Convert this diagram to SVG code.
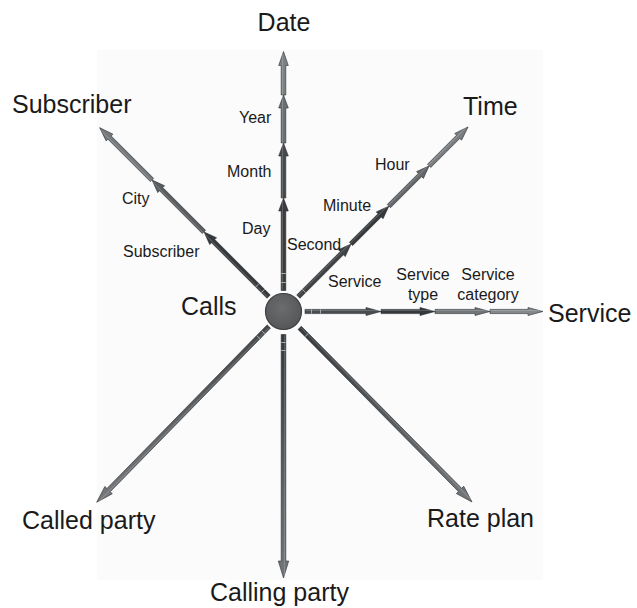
<svg xmlns="http://www.w3.org/2000/svg" width="637" height="608" viewBox="0 0 637 608">
  <defs>
    <style>
      .big { font-family: "Liberation Sans", Arial, sans-serif; font-size: 25px; fill: #1a1a1a; }
      .small { font-family: "Liberation Sans", Arial, sans-serif; font-size: 16px; fill: #1a1a1a; }
      .seg { stroke: #2b2d30; stroke-width: 0.6; stroke-linejoin: miter; }
      .notch { stroke: #b0b3b6; stroke-width: 0.9; }
      .hl { stroke: #ffffff; stroke-opacity: 0.18; stroke-width: 1; fill: none; }
    </style>
    <radialGradient id="gCircle" cx="0.45" cy="0.4" r="0.6">
      <stop offset="0" stop-color="#6a6c6e"/>
      <stop offset="1" stop-color="#555759"/>
    </radialGradient>
    <linearGradient id="gLong" gradientUnits="userSpaceOnUse" x1="20" y1="0" x2="268" y2="0">
      <stop offset="0" stop-color="#35383b"/>
      <stop offset="1" stop-color="#74777a"/>
    </linearGradient>
    <linearGradient id="gLong2" gradientUnits="userSpaceOnUse" x1="20" y1="0" x2="268" y2="0">
      <stop offset="0" stop-color="#444749"/>
      <stop offset="1" stop-color="#77797c"/>
    </linearGradient>
  </defs>

  <rect x="0" y="0" width="637" height="608" fill="#ffffff"/>
  <rect x="97" y="50" width="446" height="530" fill="#fbfbfb"/>

  <g id="connectors">
    <!-- Date (up) -->
    <g id="arrow-date" transform="translate(283.5,311.5) rotate(-90)">
      <path class="seg" fill="#3a3c3f" d="M21,-2.3 L100.5,-2.3 L100.5,-4.8 L113.5,0 L100.5,4.8 L100.5,2.3 L21,2.3 Z"/>
      <path class="seg" fill="#46494c" d="M113.5,-2.3 L155.5,-2.3 L155.5,-4.8 L168.5,0 L155.5,4.8 L155.5,2.3 L113.5,2.3 Z"/>
      <path class="seg" fill="#6c6f72" d="M168.5,-2.3 L203.5,-2.3 L203.5,-4.8 L216.5,0 L203.5,4.8 L203.5,2.3 L168.5,2.3 Z"/>
      <path class="seg" fill="#7d8083" d="M216.5,-2.3 L246,-2.3 L246,-4.8 L260,0 L246,4.8 L246,2.3 L216.5,2.3 Z"/>
      <path class="hl" d="M22,-1 H258"/>
      <line class="notch" x1="29" y1="-2.3" x2="29" y2="2.3"/>
      <line class="notch" x1="38" y1="-2.3" x2="38" y2="2.3"/>
    </g>
    <!-- Subscriber (up-left) -->
    <g id="arrow-subscriber" transform="translate(283.5,311.5) rotate(-135)">
      <path class="seg" fill="#36393c" d="M21,-2.3 L99.5,-2.3 L99.5,-4.8 L112.5,0 L99.5,4.8 L99.5,2.3 L21,2.3 Z"/>
      <path class="seg" fill="#5a5d60" d="M112.5,-2.3 L173,-2.3 L173,-4.8 L186,0 L173,4.8 L173,2.3 L112.5,2.3 Z"/>
      <path class="seg" fill="#76797c" d="M186,-2.3 L246,-2.3 L246,-4.8 L260,0 L246,4.8 L246,2.3 L186,2.3 Z"/>
      <path class="hl" d="M22,-1 H258"/>
      <line class="notch" x1="29" y1="-2.3" x2="29" y2="2.3"/>
      <line class="notch" x1="37" y1="-2.3" x2="37" y2="2.3"/>
    </g>
    <!-- Time (up-right) -->
    <g id="arrow-time" transform="translate(283.5,311.5) rotate(-45)">
      <path class="seg" fill="#3f4245" d="M21,-2.3 L82.5,-2.3 L82.5,-4.8 L95.5,0 L82.5,4.8 L82.5,2.3 L21,2.3 Z"/>
      <path class="seg" fill="#36393c" d="M95.5,-2.3 L136,-2.3 L136,-4.8 L149,0 L136,4.8 L136,2.3 L95.5,2.3 Z"/>
      <path class="seg" fill="#65686b" d="M149,-2.3 L193,-2.3 L193,-4.8 L206,0 L193,4.8 L193,2.3 L149,2.3 Z"/>
      <path class="seg" fill="#7a7d80" d="M206,-2.3 L247,-2.3 L247,-4.8 L261,0 L247,4.8 L247,2.3 L206,2.3 Z"/>
      <path class="hl" d="M22,-1 H259"/>
      <line class="notch" x1="29" y1="-2.3" x2="29" y2="2.3"/>
    </g>
    <!-- Service (right) -->
    <g id="arrow-service" transform="translate(283.5,311.5)">
      <path class="seg" fill="#4a4d50" d="M21.5,-2.1 L82.5,-2.1 L82.5,-4 L97.5,0 L82.5,4 L82.5,2.1 L21.5,2.1 Z"/>
      <path class="seg" fill="#35383b" d="M97.5,-2.1 L136.5,-2.1 L136.5,-4 L151.5,0 L136.5,4 L136.5,2.1 L97.5,2.1 Z"/>
      <path class="seg" fill="#727578" d="M151.5,-2.1 L191.5,-2.1 L191.5,-4 L206.5,0 L191.5,4 L191.5,2.1 L151.5,2.1 Z"/>
      <path class="seg" fill="#85888b" d="M206.5,-2.1 L244.5,-2.1 L244.5,-4 L259.5,0 L244.5,4 L244.5,2.1 L206.5,2.1 Z"/>
      <path class="hl" d="M22,-1 H257"/>
      <line class="notch" x1="28" y1="-2.1" x2="28" y2="2.1"/>
      <line class="notch" x1="37" y1="-2.1" x2="37" y2="2.1"/>
    </g>
    <!-- Called party (down-left) -->
    <g id="arrow-called" transform="translate(283.5,311.5) rotate(134.4)">
      <path class="seg" fill="url(#gLong2)" d="M21,-2.3 L250,-2.3 L250,-5.2 L267,0 L250,5.2 L250,2.3 L21,2.3 Z"/>
      <path class="hl" d="M22,-1 H264"/>
      <line class="notch" x1="29" y1="-2.3" x2="29" y2="2.3"/>
      <line class="notch" x1="36" y1="-2.3" x2="36" y2="2.3"/>
    </g>
    <!-- Calling party (down) -->
    <g id="arrow-calling" transform="translate(283.5,311.5) rotate(90)">
      <path class="seg" fill="url(#gLong)" d="M23,-2.3 L249.5,-2.3 L249.5,-5.2 L266.5,0 L249.5,5.2 L249.5,2.3 L23,2.3 Z"/>
      <path class="hl" d="M24,-1 H264"/>
      <line class="notch" x1="31" y1="-2.3" x2="31" y2="2.3"/>
      <line class="notch" x1="39" y1="-2.3" x2="39" y2="2.3"/>
    </g>
    <!-- Rate plan (down-right) -->
    <g id="arrow-rateplan" transform="translate(283.5,311.5) rotate(45.3)">
      <path class="seg" fill="url(#gLong)" d="M23,-2.3 L251,-2.3 L251,-5.2 L268,0 L251,5.2 L251,2.3 L23,2.3 Z"/>
      <path class="hl" d="M24,-1 H265"/>
      <line class="notch" x1="33" y1="-2.3" x2="33" y2="2.3"/>
    </g>
  </g>

  <g id="node-calls">
    <circle cx="283.5" cy="311.5" r="18" fill="url(#gCircle)" stroke="#3e4043" stroke-width="1.2"/>
    <text class="big" x="181" y="315">Calls</text>
  </g>

  <g id="node-date"><text class="big" x="284" y="31" text-anchor="middle">Date</text></g>
  <g id="node-subscriber"><text class="big" x="12" y="113">Subscriber</text></g>
  <g id="node-time"><text class="big" x="463" y="115">Time</text></g>
  <g id="node-service"><text class="big" x="548" y="322">Service</text></g>
  <g id="node-called-party"><text class="big" x="22" y="529">Called party</text></g>
  <g id="node-calling-party"><text class="big" x="210" y="601">Calling party</text></g>
  <g id="node-rate-plan"><text class="big" x="427" y="527">Rate plan</text></g>

  <g id="level-labels">
    <text class="small" x="239" y="123">Year</text>
    <text class="small" x="227" y="177">Month</text>
    <text class="small" x="242" y="234">Day</text>
    <text class="small" x="122" y="204">City</text>
    <text class="small" x="123" y="257">Subscriber</text>
    <text class="small" x="375" y="170">Hour</text>
    <text class="small" x="323" y="211">Minute</text>
    <text class="small" x="287" y="250">Second</text>
    <text class="small" x="328" y="287">Service</text>
    <text class="small" x="423" y="280" text-anchor="middle">Service</text>
    <text class="small" x="423" y="300" text-anchor="middle">type</text>
    <text class="small" x="488" y="280" text-anchor="middle">Service</text>
    <text class="small" x="488" y="300" text-anchor="middle">category</text>
  </g>
</svg>
